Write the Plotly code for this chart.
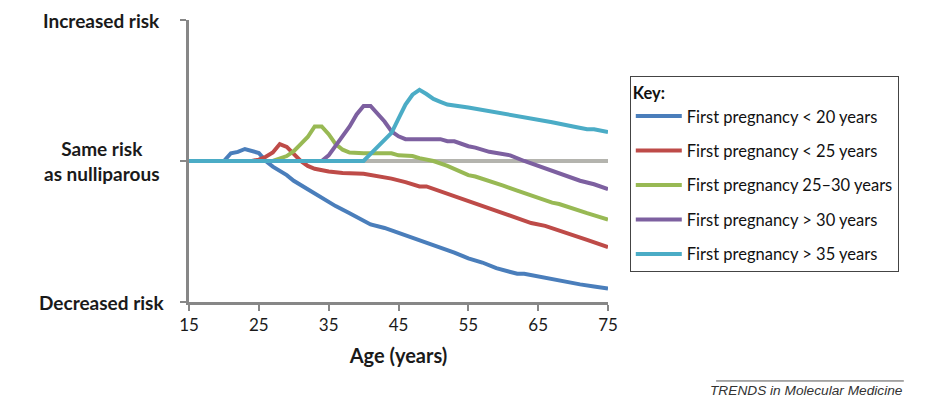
import plotly.graph_objects as go

# Ages and relative risk values (0 = same risk as nulliparous)
ages_lt20 = [15, 20, 21, 22, 23, 24, 25, 26, 27, 29, 30, 32, 34, 36, 38, 40, 41, 43, 45, 47, 49, 51,
             53, 55, 57, 59, 61, 62, 63, 65, 67, 69, 71, 73, 75]
risk_lt20 = [0, 0, 0.055, 0.065, 0.085, 0.072, 0.057, 0.0, -0.04, -0.10, -0.14, -0.20, -0.26, -0.32,
             -0.37, -0.42, -0.45, -0.475, -0.51, -0.545, -0.58, -0.61, -0.65, -0.69, -0.72, -0.76,
             -0.79, -0.80, -0.80, -0.82, -0.84, -0.86, -0.875, -0.89, -0.905]

ages_lt25 = [15, 24, 25, 26, 27, 28, 29, 30, 31, 32, 33, 35, 37, 40, 42, 44, 46, 48, 49, 51, 53, 55,
             56, 58, 60, 62, 64, 66, 68, 70, 72, 75]
risk_lt25 = [0, 0, 0.01, 0.03, 0.06, 0.12, 0.10, 0.05, 0.0, -0.035, -0.055, -0.075, -0.085, -0.09,
             -0.105, -0.125, -0.15, -0.18, -0.18, -0.215, -0.25, -0.285, -0.305, -0.335, -0.37,
             -0.405, -0.44, -0.46, -0.495, -0.53, -0.56, -0.61]

ages_25_30 = [15, 27, 29, 30, 31, 32, 33, 34, 35, 36, 37, 38, 40, 44, 45, 47, 48, 50, 52, 54, 55, 56,
              58, 60, 62, 64, 66, 67, 68, 70, 72, 75]
risk_25_30 = [0, 0, 0.035, 0.07, 0.12, 0.17, 0.245, 0.245, 0.19, 0.12, 0.08, 0.06, 0.055, 0.055, 0.04,
              0.035, 0.02, 0.0, -0.035, -0.075, -0.1, -0.11, -0.14, -0.175, -0.21, -0.245, -0.28,
              -0.295, -0.305, -0.34, -0.37, -0.415]

ages_gt30 = [15, 34, 35, 36, 37, 38, 39, 40, 41, 42, 43, 44, 45, 46, 51, 52, 53, 55, 56, 58, 60, 61,
             63, 65, 67, 69, 71, 73, 75]
risk_gt30 = [0, 0, 0.04, 0.11, 0.17, 0.245, 0.33, 0.39, 0.39, 0.34, 0.28, 0.21, 0.175, 0.155, 0.155,
             0.14, 0.14, 0.105, 0.095, 0.065, 0.045, 0.04, 0.0, -0.035, -0.07, -0.11, -0.14, -0.165, -0.2]

ages_gt35 = [15, 40, 41, 42, 43, 44, 45, 46, 47, 48, 49, 50, 51, 52, 55, 58, 61, 64, 67, 70, 72, 73, 75]
risk_gt35 = [0, 0, 0.05, 0.1, 0.15, 0.2, 0.3, 0.4, 0.47, 0.505, 0.475, 0.44, 0.42, 0.4, 0.38, 0.355,
             0.33, 0.305, 0.275, 0.245, 0.225, 0.225, 0.205]

baseline_ages = [15, 75]
baseline_risk = [0, 0]

series = [
    ("First pregnancy < 20 years", ages_lt20, risk_lt20, "#4A7EBB"),
    ("First pregnancy < 25 years", ages_lt25, risk_lt25, "#BE4B48"),
    ("First pregnancy 25\u201330 years", ages_25_30, risk_25_30, "#98B954"),
    ("First pregnancy > 30 years", ages_gt30, risk_gt30, "#7D60A0"),
    ("First pregnancy > 35 years", ages_gt35, risk_gt35, "#4BACC6"),
]

x_ticks = [15, 25, 35, 45, 55, 65, 75]
y_levels = [1, 0, -1]
y_labels = ["Increased risk", "Same risk<br>as nulliparous", "Decreased risk"]

FONT = "Lato, 'Open Sans', sans-serif"

fig = go.Figure()

# grey reference line for "same risk"
fig.add_trace(go.Scatter(x=baseline_ages, y=baseline_risk, mode="lines",
                         line=dict(color="#B4B4AE", width=4), showlegend=False, hoverinfo="skip"))

for i, (name, xs, ys, col) in enumerate(series):
    fig.add_trace(go.Scatter(x=xs, y=ys, mode="lines", name=name, legendgroup=f"g{i}",
                             line=dict(color=col, width=4)))

fig.update_xaxes(range=[15, 75], tickvals=x_ticks, showgrid=False, zeroline=False,
                 showline=True, linecolor="#878787", linewidth=2.5,
                 ticks="outside", ticklen=6, tickwidth=2, tickcolor="#878787",
                 tickfont=dict(family=FONT, size=17, color="#1a1a1a"),
                 title=dict(text="<b>Age (years)</b>", font=dict(family=FONT, size=20, color="#1a1a1a"),
                            standoff=15))
fig.update_yaxes(range=[-1, 1], tickvals=y_levels, showticklabels=False, showgrid=False,
                 zeroline=False, showline=True, linecolor="#878787", linewidth=2.5,
                 ticks="outside", ticklen=6, tickwidth=2, tickcolor="#878787")

# risk labels on the left, centred like the original
for lvl, lab in zip(y_levels, y_labels):
    fig.add_annotation(x=-0.208, xref="paper", y=lvl, yref="y", text=f"<b>{lab}</b>",
                       showarrow=False, xanchor="center", yanchor="middle", align="center",
                       font=dict(family=FONT, size=19, color="#1a1a1a"))

# source footer
fig.add_shape(type="line", xref="paper", yref="paper", x0=1.258, x1=1.706, y0=-0.280, y1=-0.280,
              line=dict(color="#555555", width=1))
fig.add_annotation(x=1.709, xref="paper", y=-0.314, yref="paper", text="<i>TRENDS in Molecular Medicine</i>",
                   showarrow=False, xanchor="right", yanchor="middle",
                   font=dict(family="'Liberation Sans', Arial, sans-serif", size=13.7, color="#333333"))

fig.update_layout(
    width=933, height=400,
    margin=dict(l=181, r=333, t=12, b=106),
    plot_bgcolor="white", paper_bgcolor="white",
    showlegend=True,
    legend=dict(x=1.052, y=0.80, xanchor="left", yanchor="top",
                bordercolor="#444444", borderwidth=1, bgcolor="white",
                tracegroupgap=10, itemwidth=46,
                title=dict(text="<b>Key:</b>", font=dict(family=FONT, size=16.5, color="#111111")),
                font=dict(family=FONT, size=16.5, color="#111111")),
)

fig.write_html("out.html")
